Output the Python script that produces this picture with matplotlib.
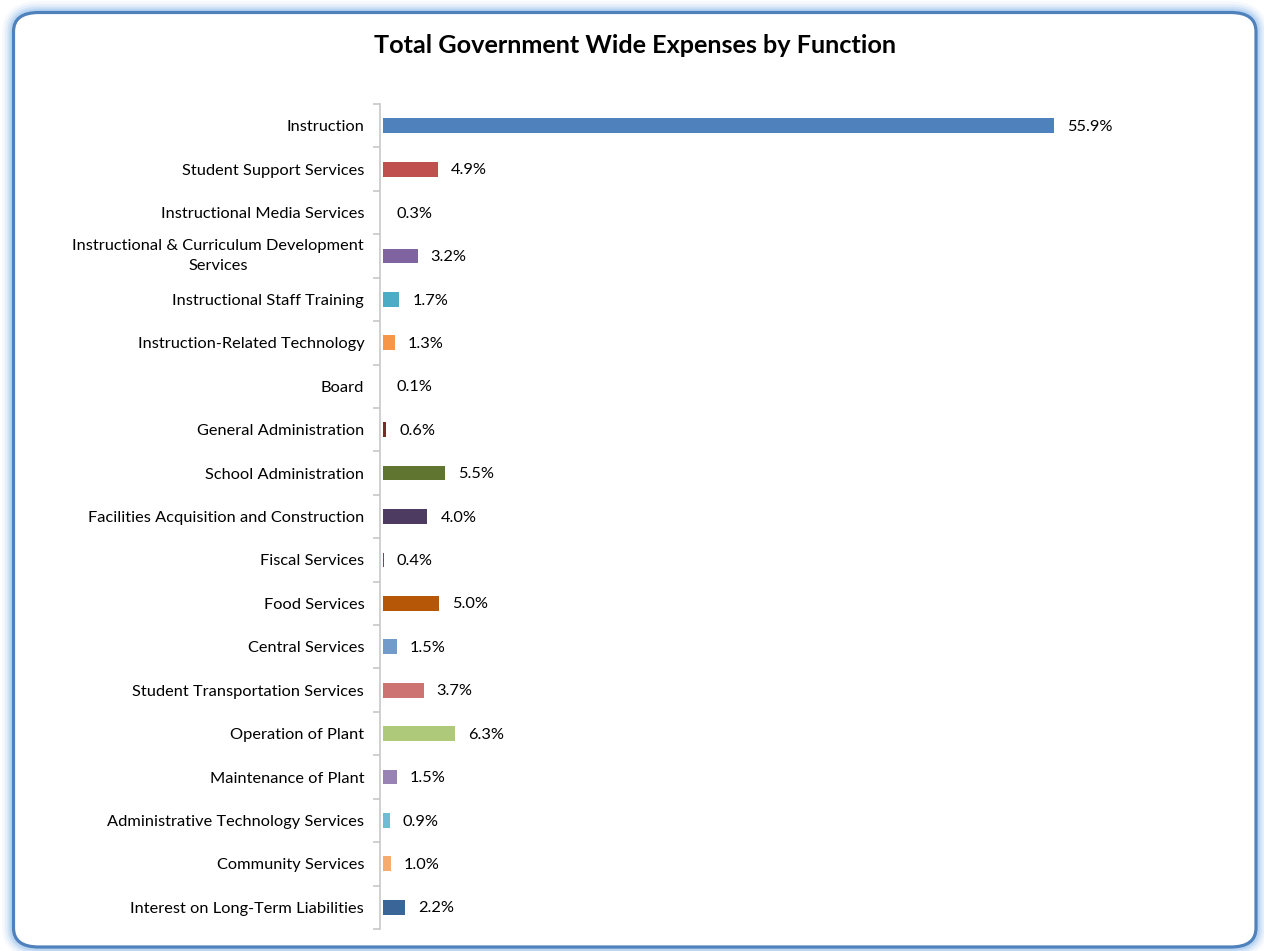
import matplotlib
matplotlib.use("Agg")
import matplotlib.pyplot as plt
from matplotlib.patches import FancyBboxPatch

categories = [
    "Instruction",
    "Student Support Services",
    "Instructional Media Services",
    "Instructional & Curriculum Development\nServices",
    "Instructional Staff Training",
    "Instruction-Related Technology",
    "Board",
    "General Administration",
    "School Administration",
    "Facilities Acquisition and Construction",
    "Fiscal Services",
    "Food Services",
    "Central Services",
    "Student Transportation Services",
    "Operation of Plant",
    "Maintenance of Plant",
    "Administrative Technology Services",
    "Community Services",
    "Interest on Long-Term Liabilities",
]
values = [55.9, 4.9, 0.3, 3.2, 1.7, 1.3, 0.1, 0.6, 5.5, 4.0,
          0.4, 5.0, 1.5, 3.7, 6.3, 1.5, 0.9, 1.0, 2.2]
labels = ["55.9%", "4.9%", "0.3%", "3.2%", "1.7%", "1.3%", "0.1%", "0.6%",
          "5.5%", "4.0%", "0.4%", "5.0%", "1.5%", "3.7%", "6.3%", "1.5%",
          "0.9%", "1.0%", "2.2%"]
colors = ["#4F81BD", "#C0504D", "#9BBB59", "#8064A2", "#4BACC6", "#F79646",
          "#2C4D75", "#772C2A", "#5F7530", "#4D3B62", "#276A7C", "#B65708",
          "#729ACA", "#CD7371", "#AFC97A", "#9983B5", "#6FBDD1", "#F9AB6B",
          "#3A6599"]
title = "Total Government Wide Expenses by Function"

W, H = 1264, 951
fig = plt.figure(figsize=(W / 100, H / 100), dpi=100)
fig.patch.set_facecolor("white")

# frame with glow
for lw, a in [(16, 0.10), (12, 0.18), (8.5, 0.28), (5.5, 0.4)]:
    fig.patches.append(FancyBboxPatch((13.5 / W, 1 - 947 / H), (1256 - 13.5) / W, (947 - 12.5) / H,
                                      boxstyle="round,pad=0,rounding_size=0.02",
                                      transform=fig.transFigure, facecolor="none",
                                      edgecolor="#9CC3EE", alpha=a, linewidth=lw, zorder=0))
fig.patches.append(FancyBboxPatch((13.5 / W, 1 - 947 / H), (1256 - 13.5) / W, (947 - 12.5) / H,
                                  boxstyle="round,pad=0,rounding_size=0.02",
                                  transform=fig.transFigure, facecolor="white",
                                  edgecolor="#4F81BD", linewidth=2.3, zorder=1))

font = "Lato"
fs = 11.8
ax_left, ax_right = 383, 1110
ax_top, ax_bot = 104, 929
ax = fig.add_axes([ax_left / W, 1 - ax_bot / H, (ax_right - ax_left) / W, (ax_bot - ax_top) / H])
ax.set_facecolor("none")
ax.set_zorder(2)

scale = 12.07
xmin = 0.34
xmax = xmin + (ax_right - ax_left) / scale
n = len(categories)
y = list(range(n))
ax.barh(y, values, height=0.34, color=colors, edgecolor="none", left=0)
ax.set_xlim(xmin, xmax)
ax.set_ylim(n - 0.5, -0.5)

for yi, v, lab in zip(y, values, labels):
    ax.annotate(lab, xy=(max(v, xmin), yi), xytext=(9.5, -0.8), textcoords="offset points",
                ha="left", va="center", fontsize=fs, family=font, color="black")

for s in ["top", "right", "bottom"]:
    ax.spines[s].set_visible(False)
ax.spines["left"].set_position(("outward", 2))
ax.spines["left"].set_color("#C8C8C8")
ax.spines["left"].set_linewidth(1.2)
ax.set_xticks([])
ax.set_yticks(y)
ax.set_yticklabels(categories, family=font, fontsize=fs, multialignment="center",
                   linespacing=1.55)
for t in ax.get_yticklabels():
    if "\n" in t.get_text():
        t.set_verticalalignment("center")
ax.tick_params(axis="y", which="major", length=0, pad=11.5)
ax.set_yticks([i - 0.5 for i in range(n + 1)], minor=True)
ax.tick_params(axis="y", which="minor", length=5, color="#C8C8C8", width=1.2, direction="out")

fig.text(635 / W, 1 - 45.5 / H, title, ha="center", va="center", fontsize=18.2,
         fontweight="bold", family=font, color="black")

fig.savefig("out.png", dpi=100, facecolor="white")
